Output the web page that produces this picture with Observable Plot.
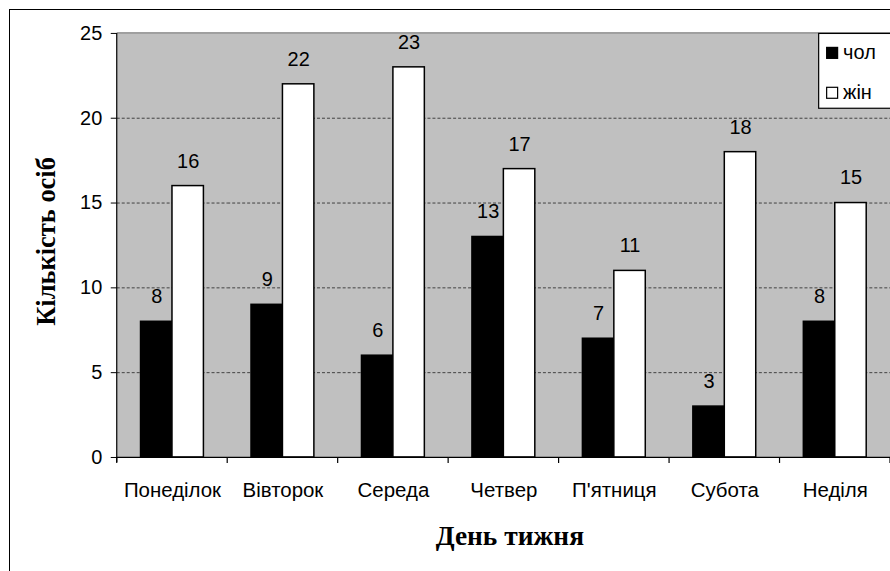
<!DOCTYPE html>
<html><head><meta charset="utf-8">
<script src="https://cdn.jsdelivr.net/npm/d3@7"></script>
<script src="https://cdn.jsdelivr.net/npm/@observablehq/plot@0.6"></script>
<style>
html,body{margin:0;padding:0;background:#fff;overflow:hidden;}
#wrap{position:relative;width:890px;height:571px;overflow:hidden;}
#border{position:absolute;left:9px;top:9px;width:1000px;height:1000px;border:1px solid #000;box-sizing:border-box;}
#chart{position:absolute;left:0;top:0;}
</style></head><body><div id="wrap"><div id="border"></div><div id="chart"></div></div>
<script>
const days = ["Понеділок","Вівторок","Середа","Четвер","П'ятниця","Субота","Неділя"];
const series = ["чол","жін"];
const men = [8,9,6,13,7,3,8];
const women = [16,22,23,17,11,18,15];
const yTicks = [0,5,10,15,20,25];
const gridTicks = [5,10,15,20];
const yTitle = "Кількість осіб";
const xTitle = "День тижня";

const data = days.flatMap((d,i)=>[{day:d, s:series[0], v:men[i]},{day:d, s:series[1], v:women[i]}]);

const sans = "'Liberation Sans', Arial, sans-serif";
const serif = "'Liberation Serif', 'Times New Roman', serif";

const plot = Plot.plot({
  width: 892, height: 571,
  marginLeft: 117, marginRight: 0, marginTop: 33, marginBottom: 113,
  style: {fontFamily: sans, fontSize: "20px", color: "#000", background: "transparent", overflow: "visible"},
  fx: {domain: days, paddingInner: 0, paddingOuter: 0, round: false, label: null},
  x: {domain: series, paddingInner: 0, paddingOuter: 0.757, round: false, axis: null},
  y: {domain: [0,25], label: null},
  color: {domain: series, range: ["#000000","#ffffff"]},
  marks: [
    Plot.ruleY(gridTicks, {stroke: "#404040", strokeDasharray: "3,2", strokeWidth: 1}),
    Plot.barY(data, {fx: "day", x: "s", y: "v", fill: "s", stroke: "#000", strokeWidth: 1.5}),
    Plot.text(data, {fx: "day", x: "s", y: "v", text: d => String(d.v), dy: -25, fill: "#000", fontSize: 20}),
    Plot.ruleY([0], {stroke: "#000", strokeWidth: 1.2}),
    Plot.axisY({ticks: yTicks, tickSize: 6, tickPadding: 9, fontSize: 20, label: null, stroke: "#000"}),
    Plot.axisFx({anchor: "bottom", tickSize: 0, tickPadding: 25, fontSize: 20.5, label: null})
  ]
});
document.getElementById("chart").appendChild(plot);

const svg = d3.select(plot);
const fx = plot.scale("fx"), y = plot.scale("y");
const xl = fx.range[0], xr = fx.range[1];
const y0 = y.apply(0), yTop = y.apply(25);

svg.insert("rect", ":first-child")
  .attr("x", xl).attr("y", yTop).attr("width", xr - xl).attr("height", y0 - yTop)
  .attr("fill", "#C0C0C0");

svg.append("line").attr("x1", xl).attr("x2", xr).attr("y1", yTop).attr("y2", yTop)
  .attr("stroke", "#808080").attr("stroke-width", 1.2);
svg.append("line").attr("x1", xl).attr("x2", xl).attr("y1", yTop).attr("y2", y0 + 5)
  .attr("stroke", "#000").attr("stroke-width", 1.2);
const bounds = days.map(d => fx.apply(d)).concat([xr]);
svg.append("g").selectAll("line").data(bounds).join("line")
  .attr("x1", d => d).attr("x2", d => d).attr("y1", y0).attr("y2", y0 + 6)
  .attr("stroke", "#000").attr("stroke-width", 1.2);

svg.append("text").text(yTitle)
  .attr("transform", `translate(55,242) rotate(-90)`)
  .attr("text-anchor", "middle")
  .attr("font-family", serif).attr("font-weight", "bold").attr("font-size", 26.5).attr("fill", "#000");
svg.append("text").text(xTitle)
  .attr("x", 511).attr("y", 546)
  .attr("text-anchor", "middle")
  .attr("font-family", serif).attr("font-weight", "bold").attr("font-size", 27.5).attr("fill", "#000");

const lg = svg.append("g");
lg.append("rect").attr("x", 820.5).attr("y", 33.5).attr("width", 80).attr("height", 75)
  .attr("fill", "#fff").attr("stroke", "#000").attr("stroke-width", 1.2);
series.forEach((s, i) => {
  const ty = i === 0 ? 47 : 87;
  lg.append("rect").attr("x", 828.5).attr("y", ty + 0.5).attr("width", 11).attr("height", 11)
    .attr("fill", i === 0 ? "#000" : "#fff").attr("stroke", "#000").attr("stroke-width", 1.2);
  lg.append("text").text(s).attr("x", 845).attr("y", ty + 12)
    .attr("text-anchor", "start")
    .attr("font-family", sans).attr("font-size", 20).attr("fill", "#000");
});
</script>
</body></html>
